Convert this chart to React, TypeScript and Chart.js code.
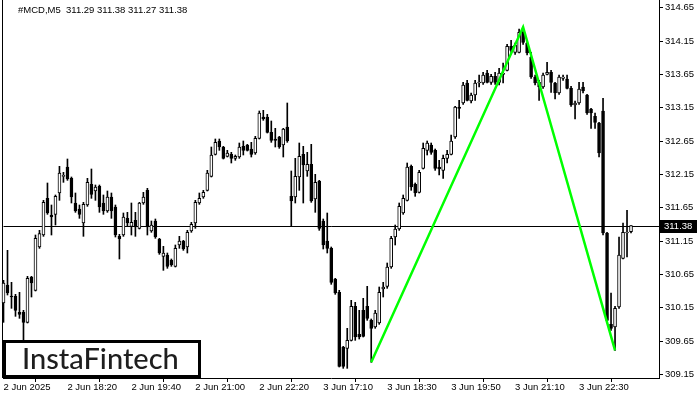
import React, { useEffect, useRef } from "react";
import { Chart, registerables } from "chart.js";
Chart.register(...registerables);

const symbolTitle = "#MCD,M5";
const lastPrice = 311.38;
const slotCount = 165;

const opens = [
  310.22, 310.49, 310.32, 310.32, 310.08, 310.08, 309.93, 310.61, 310.41, 311.06,
  311.24, 311.79, 311.54, 311.55, 311.87, 312.12, 312.26, 312.09, 311.72, 311.63,
  311.42, 311.69, 312.0, 311.9, 311.97, 311.72, 311.6, 311.81, 311.66, 311.22,
  311.24, 311.49, 311.37, 311.46, 311.34, 311.72, 311.91, 311.3, 311.45, 311.18,
  310.92, 310.94, 310.86, 310.77, 311.09, 311.15, 311.06, 311.3, 311.42, 311.72,
  311.81, 311.91, 312.12, 312.45, 312.65, 312.56, 312.42, 312.45, 312.39, 312.41,
  312.57, 312.59, 312.53, 312.47, 312.69, 313.01, 313.01, 312.78, 312.68, 312.71,
  312.59, 312.86, 311.82, 311.81, 312.11, 312.45, 312.2, 312.3, 311.78, 312.05,
  311.45, 311.15, 311.04, 310.58, 310.38, 309.56, 309.54, 309.66, 310.17, 309.75,
  310.11, 310.17, 309.96, 309.86, 309.92, 310.43, 310.47, 310.76, 311.21, 311.33,
  311.57, 311.76, 312.27, 312.0, 311.88, 312.24, 312.51, 312.59, 312.51, 312.26,
  312.21, 312.39, 312.45, 312.71, 313.16, 313.22, 313.52, 313.25, 313.34, 313.52,
  313.52, 313.67, 313.53, 313.62, 313.53, 313.65, 313.71, 314.07, 313.98, 313.98,
  314.28, 314.12, 313.91, 313.61, 313.53, 313.46, 313.65, 313.68, 313.52, 313.37,
  313.59, 313.58, 313.44, 313.19, 313.22, 313.46, 313.34, 313.13, 313.02, 312.92,
  313.1, 311.27, 309.9, 309.86, 310.16, 310.89, 311.27, 311.29,
];
const highs = [
  310.56, 311.01, 310.53, 310.35, 310.38, 310.11, 310.62, 310.62, 311.24, 311.31,
  311.76, 312.02, 311.69, 311.84, 312.27, 312.18, 312.38, 312.11, 311.87, 311.69,
  311.73, 312.09, 312.23, 311.99, 311.99, 311.84, 311.9, 311.87, 311.69, 311.25,
  311.57, 311.58, 311.72, 311.58, 311.73, 311.88, 311.94, 311.45, 311.48, 311.19,
  311.07, 310.97, 310.88, 311.09, 311.22, 311.16, 311.31, 311.43, 311.76, 311.87,
  311.91, 312.21, 312.56, 312.68, 312.68, 312.57, 312.51, 312.48, 312.44, 312.62,
  312.65, 312.6, 312.63, 312.72, 313.1, 313.11, 313.05, 312.95, 312.84, 312.72,
  312.84, 313.22, 312.2, 312.39, 312.62, 312.57, 312.48, 312.6, 312.15, 312.06,
  311.48, 311.57, 311.06, 310.59, 310.41, 309.57, 309.84, 310.26, 310.23, 310.11,
  310.29, 310.47, 309.98, 310.11, 310.46, 310.53, 310.82, 311.22, 311.39, 311.72,
  311.84, 312.32, 312.29, 312.02, 312.21, 312.62, 312.65, 312.62, 312.53, 312.36,
  312.44, 312.51, 312.74, 313.17, 313.26, 313.53, 313.56, 313.37, 313.56, 313.64,
  313.68, 313.71, 313.65, 313.68, 313.74, 313.82, 314.1, 314.16, 314.12, 314.33,
  314.36, 314.16, 313.98, 313.64, 313.56, 313.67, 313.83, 313.71, 313.53, 313.64,
  313.64, 313.64, 313.47, 313.25, 313.53, 313.53, 313.35, 313.14, 313.07, 312.93,
  313.29, 311.28, 310.37, 310.17, 311.21, 311.42, 311.61, 311.38,
];
const lows = [
  309.93, 310.34, 310.14, 310.02, 309.99, 309.66, 309.92, 310.31, 310.4, 311.04,
  311.22, 311.55, 311.24, 311.39, 311.76, 312.03, 312.06, 311.72, 311.58, 311.49,
  311.22, 311.67, 311.79, 311.76, 311.58, 311.55, 311.58, 311.49, 311.21, 310.88,
  311.22, 311.37, 311.24, 311.22, 311.33, 311.7, 311.24, 311.28, 311.19, 310.95,
  310.71, 310.74, 310.77, 310.76, 311.04, 311.01, 310.97, 311.28, 311.34, 311.7,
  311.79, 311.9, 312.11, 312.44, 312.51, 312.38, 312.41, 312.32, 312.36, 312.39,
  312.44, 312.5, 312.41, 312.45, 312.68, 312.96, 312.77, 312.63, 312.56, 312.54,
  312.41, 312.63, 311.37, 311.72, 311.91, 311.72, 312.12, 311.73, 311.58, 311.31,
  311.03, 310.97, 310.5, 310.35, 309.26, 309.24, 309.24, 309.65, 309.66, 309.68,
  309.71, 309.96, 309.33, 309.84, 309.9, 310.31, 310.44, 310.74, 311.09, 311.31,
  311.55, 311.75, 311.91, 311.82, 311.87, 312.23, 312.44, 312.45, 312.21, 312.14,
  312.09, 312.32, 312.44, 312.69, 312.99, 313.2, 313.25, 313.22, 313.26, 313.46,
  313.5, 313.52, 313.5, 313.5, 313.49, 313.52, 313.7, 313.98, 313.95, 313.97,
  314.1, 313.94, 313.59, 313.49, 313.26, 313.44, 313.64, 313.38, 313.28, 313.35,
  313.56, 313.43, 313.17, 312.98, 313.2, 313.37, 313.05, 312.84, 312.84, 312.41,
  311.24, 309.95, 309.81, 309.51, 310.14, 310.88, 310.91, 311.27,
];
const closes = [
  310.52, 310.37, 310.31, 310.11, 310.05, 309.93, 310.59, 310.52, 311.19, 311.26,
  311.73, 311.57, 311.51, 311.82, 312.17, 312.13, 312.08, 311.81, 311.6, 311.55,
  311.7, 312.03, 311.85, 311.96, 311.66, 311.6, 311.81, 311.6, 311.24, 311.18,
  311.51, 311.42, 311.43, 311.36, 311.72, 311.81, 311.36, 311.39, 311.21, 310.97,
  310.97, 310.77, 310.79, 311.04, 311.15, 311.03, 311.28, 311.4, 311.73, 311.79,
  311.88, 312.17, 312.44, 312.63, 312.56, 312.39, 312.47, 312.39, 312.42, 312.56,
  312.51, 312.51, 312.45, 312.69, 313.07, 312.98, 312.78, 312.66, 312.66, 312.56,
  312.83, 312.65, 311.75, 312.12, 312.42, 312.29, 312.3, 311.75, 312.03, 311.34,
  311.09, 311.04, 310.53, 310.37, 309.27, 309.27, 309.66, 310.17, 309.71, 309.71,
  309.72, 309.99, 309.84, 310.07, 310.38, 310.46, 310.76, 311.19, 311.33, 311.67,
  311.79, 312.26, 311.96, 311.87, 312.18, 312.54, 312.62, 312.48, 312.24, 312.23,
  312.39, 312.45, 312.65, 313.16, 313.14, 313.49, 313.26, 313.34, 313.52, 313.53,
  313.64, 313.53, 313.62, 313.53, 313.67, 313.67, 314.07, 314.01, 314.09, 314.28,
  314.13, 313.97, 313.61, 313.52, 313.46, 313.64, 313.68, 313.53, 313.37, 313.61,
  313.61, 313.44, 313.19, 313.22, 313.43, 313.4, 313.07, 313.07, 312.93, 312.47,
  311.27, 309.96, 309.84, 310.14, 310.94, 311.28, 311.28, 311.38,
];

const tickIndex = [0, 16, 32, 48, 64, 80, 96, 112, 128, 144];
const tickLabels = [
  "2 Jun 2025", "2 Jun 18:20", "2 Jun 19:40", "2 Jun 21:00", "2 Jun 22:20",
  "3 Jun 17:10", "3 Jun 18:30", "3 Jun 19:50", "3 Jun 21:10", "3 Jun 22:30",
];
const yTicks = [309.15, 309.65, 310.15, 310.65, 311.15, 311.65, 312.15, 312.65, 313.15, 313.65, 314.15, 314.65];
const yMin = 309.095;
const yMax = 314.765;

const patternIndex = [92, 130, 153];
const patternPrice = [309.33, 314.36, 309.51];

const AXIS_FONT = { family: "'Liberation Sans', Arial, sans-serif", size: 9.5 };

export default function App() {
  const ref = useRef<HTMLCanvasElement | null>(null);

  useEffect(() => {
    if (!ref.current) return;
    const n = opens.length;
    const last = n - 1;
    const headerText = `${symbolTitle}  ${opens[last].toFixed(2)} ${highs[last].toFixed(2)} ${lows[last].toFixed(2)} ${closes[last].toFixed(2)}`;

    const overlay = {
      id: "mtOverlay",
      beforeDatasetsDraw(chart: any) {
        const { ctx, chartArea } = chart;
        const y = Math.round(chart.scales.y.getPixelForValue(lastPrice)) + 0.5;
        ctx.save();
        ctx.strokeStyle = "#000";
        ctx.lineWidth = 1;
        ctx.beginPath();
        ctx.moveTo(chartArea.left, y);
        ctx.lineTo(chartArea.right, y);
        ctx.stroke();
        ctx.beginPath();
        ctx.moveTo(Math.floor(chartArea.left) - 0.5, chartArea.top);
        ctx.lineTo(Math.floor(chartArea.left) - 0.5, chartArea.bottom);
        ctx.stroke();
        ctx.restore();
      },
      afterDraw(chart: any) {
        const { ctx, chartArea } = chart;
        ctx.save();
        ctx.fillStyle = "#000";
        ctx.font = "9.5px 'Liberation Sans', Arial, sans-serif";
        ctx.textBaseline = "middle";
        ctx.textAlign = "left";
        ctx.fillText(headerText, 18, 10);
        const y = Math.round(chart.scales.y.getPixelForValue(lastPrice));
        ctx.fillStyle = "#000";
        ctx.fillRect(chartArea.right + 1, y - 6, 37, 13);
        ctx.fillStyle = "#fff";
        ctx.fillText(lastPrice.toFixed(2), chartArea.right + 5, y + 0.5);
        ctx.fillStyle = "#fff";
        ctx.fillRect(3, 340, 198, 38);
        ctx.strokeStyle = "#000";
        ctx.lineWidth = 3;
        ctx.strokeRect(4.5, 341.5, 195, 35);
        ctx.fillStyle = "#1e1e1e";
        ctx.font = "500 29px Lato, 'Noto Sans', sans-serif";
        ctx.textBaseline = "middle";
        ctx.fillText("InstaFintech", 22, 360);
        ctx.restore();
      },
    };

    const chart = new Chart(ref.current, {
      type: "bar",
      data: {
        labels: Array.from({ length: slotCount }, (_, i) => String(i)),
        datasets: [
          {
            type: "line",
            data: patternIndex.map((x, i) => ({ x: String(x), y: patternPrice[i] })),
            borderColor: "#00ff00",
            borderWidth: 2.5,
            pointRadius: 0,
            tension: 0,
            order: -1,
            clip: false,
          } as any,
          {
            data: opens.map((o, i) => [o, closes[i]]),
            backgroundColor: opens.map((o, i) => (closes[i] >= o ? "#ffffff" : "#000000")),
            borderColor: "#000000",
            borderWidth: 1,
            borderSkipped: false,
            barThickness: 3,
            minBarLength: 1,
            grouped: false,
            order: 0,
            clip: false,
          } as any,
          {
            data: lows.map((l, i) => [l, highs[i]]),
            backgroundColor: "#000000",
            borderWidth: 0,
            barThickness: 1,
            grouped: false,
            order: 1,
            clip: false,
          } as any,
        ],
      },
      options: {
        animation: false,
        responsive: false,
        maintainAspectRatio: false,
        layout: { padding: { left: 3.5, top: 0, right: 0, bottom: 0 } },
        plugins: { legend: { display: false }, tooltip: { enabled: false }, title: { display: false } },
        scales: {
          x: {
            type: "category",
            offset: false,
            grid: { display: true, drawOnChartArea: false, drawTicks: true, tickLength: 4, color: "#000" },
            border: { display: true, color: "#000", width: 1 },
            ticks: {
              autoSkip: false,
              maxRotation: 0,
              minRotation: 0,
              align: "start",
              padding: 0,
              color: "#000",
              font: AXIS_FONT,
              callback: (v: any) => {
                const k = tickIndex.indexOf(Number(v));
                return k >= 0 ? tickLabels[k] : "";
              },
            },
            afterBuildTicks: (axis: any) => {
              axis.ticks = tickIndex.map((v) => ({ value: v }));
            },
            afterFit: (axis: any) => {
              axis.height = 22;
              axis.paddingLeft = 0;
              axis.paddingRight = 0;
            },
          },
          y: {
            type: "linear",
            position: "right",
            min: yMin,
            max: yMax,
            grid: { display: true, drawOnChartArea: false, drawTicks: true, tickLength: 4, color: "#000" },
            border: { display: true, color: "#000", width: 1 },
            ticks: {
              padding: 2,
              color: "#000",
              font: AXIS_FONT,
              callback: (v: any) => Number(v).toFixed(2),
            },
            afterBuildTicks: (axis: any) => {
              axis.ticks = yTicks.map((v) => ({ value: v }));
            },
            afterFit: (axis: any) => {
              axis.width = 41;
              axis.paddingTop = 0;
              axis.paddingBottom = 0;
            },
          },
        },
      } as any,
      plugins: [overlay],
    });
    return () => chart.destroy();
  }, []);

  return (
    <div style={{ position: "absolute", left: 0, top: 0, width: 700, height: 400, background: "#fff" }}>
      <canvas ref={ref} width={700} height={400} style={{ width: 700, height: 400, display: "block" }} />
    </div>
  );
}
